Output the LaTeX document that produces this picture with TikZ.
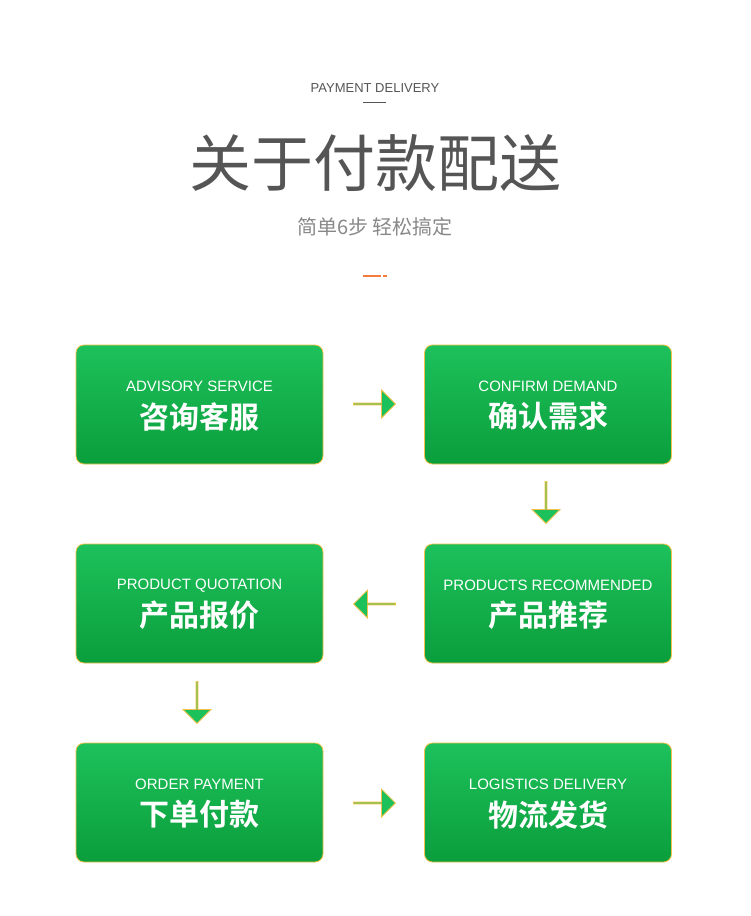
\documentclass[tikz,border=0pt]{standalone}
\usepackage{fontspec}
\setmainfont{Liberation Sans}
\newfontfamily\cjk{Noto Sans CJK SC}
\newfontfamily\cjkb{Noto Sans CJK SC Bold}
\usetikzlibrary{shapes.arrows}
\definecolor{titlegray}{HTML}{555555}
\definecolor{subgray}{HTML}{888888}
\definecolor{gtop}{HTML}{1DC15B}
\definecolor{gbot}{HTML}{0A9E3C}
\definecolor{boxedge}{HTML}{F2C14A}
\definecolor{dashor}{HTML}{F57B3C}
\tikzset{
  stepbox/.style = {rounded corners=8pt, draw=boxedge, line width=0.8pt,
    top color=gtop, bottom color=gbot, minimum width=247pt, minimum height=119pt},
  zh/.style = {text=white, font=\cjkb\fontsize{30}{30}\selectfont},
  en/.style = {text=white, font=\fontsize{15}{15}\selectfont},
  flow/.style = {single arrow, draw=boxedge, fill=gtop, line width=0.8pt,
    minimum height=42pt, minimum width=28pt, single arrow head extend=6pt,
    single arrow tip angle=90, inner sep=0pt}
}
\begin{document}
\begin{tikzpicture}[x=1pt, y=-1pt]
\useasboundingbox (0,0) rectangle (750,916);
% heading
\node[text=titlegray, font=\fontsize{13}{13}\selectfont] (head) at (375,88) {PAYMENT DELIVERY};
\draw[titlegray, line width=0.8pt] (363,102) -- (386,102);
\node[text=titlegray, font=\cjk\fontsize{62}{62}\selectfont] (title) at (375,163) {关于付款配送};
\node[text=subgray, font=\cjk\fontsize{20}{20}\selectfont] (sub) at (375,227) {简单6步 轻松搞定};
\draw[dashor, line width=1.5pt] (363,276) -- (381,276) (383,276) -- (387,276);
% boxes
\node[stepbox] (S1) at (199.5,404.5) {};
\node[stepbox] (S2) at (548,404.5) {};
\node[stepbox] (S3) at (548,603.5) {};
\node[stepbox] (S4) at (199.5,603.5) {};
\node[stepbox] (S5) at (199.5,802.5) {};
\node[stepbox] (S6) at (548,802.5) {};
% labels
\node[zh] at ([yshift=-12pt]S1.center) {咨询客服};
\node[en] at ([yshift=18pt]S1.center) {ADVISORY SERVICE};
\node[zh] at ([yshift=-12pt]S2.center) {确认需求};
\node[en] at ([yshift=18pt]S2.center) {CONFIRM DEMAND};
\node[zh] at ([yshift=-12pt]S3.center) {产品推荐};
\node[en] at ([yshift=18pt]S3.center) {PRODUCTS RECOMMENDED};
\node[zh] at ([yshift=-12pt]S4.center) {产品报价};
\node[en] at ([yshift=18pt]S4.center) {PRODUCT QUOTATION};
\node[zh] at ([yshift=-12pt]S5.center) {下单付款};
\node[en] at ([yshift=18pt]S5.center) {ORDER PAYMENT};
\node[zh] at ([yshift=-12pt]S6.center) {物流发货};
\node[en] at ([yshift=18pt]S6.center) {LOGISTICS DELIVERY};
% arrows
\node[flow] (A1) at (374,404) {};
\node[flow, shape border rotate=270] (A2) at (546,502) {};
\node[flow, shape border rotate=180] (A3) at (375,604) {};
\node[flow, shape border rotate=270] (A4) at (197,702) {};
\node[flow] (A5) at (374,803) {};
\end{tikzpicture}
\end{document}
